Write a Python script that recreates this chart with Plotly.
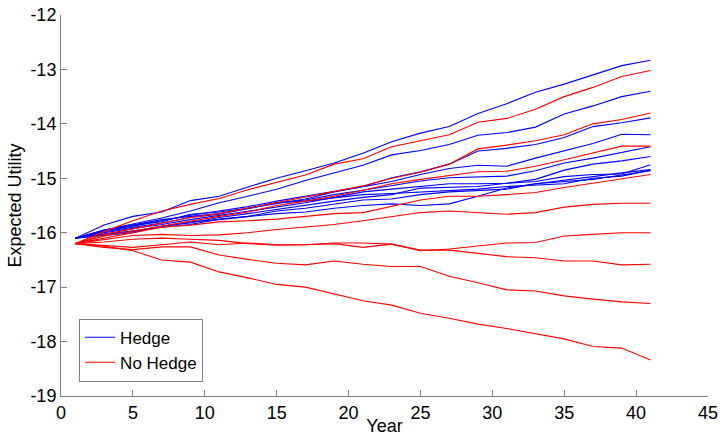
import plotly.graph_objects as go

years = [1, 3, 5, 7, 9, 11, 13, 15, 17, 19, 21, 23, 25, 27, 29, 31, 33, 35, 37, 39, 41]

hedge_1 = [-16.10, -15.86, -15.70, -15.62, -15.41, -15.33, -15.16, -15.00, -14.86, -14.72, -14.54, -14.33, -14.17, -14.05, -13.81, -13.63, -13.42, -13.27, -13.10, -12.93, -12.83]
hedge_2 = [-16.10, -15.95, -15.84, -15.73, -15.60, -15.45, -15.33, -15.20, -15.04, -14.90, -14.76, -14.57, -14.49, -14.38, -14.21, -14.16, -14.06, -13.82, -13.67, -13.50, -13.40]
hedge_3 = [-16.10, -15.97, -15.88, -15.78, -15.68, -15.60, -15.52, -15.42, -15.33, -15.24, -15.15, -14.99, -14.88, -14.74, -14.50, -14.45, -14.38, -14.25, -14.05, -13.98, -13.89]
hedge_4 = [-16.10, -15.95, -15.86, -15.80, -15.66, -15.62, -15.55, -15.46, -15.38, -15.25, -15.15, -15.06, -14.93, -14.82, -14.76, -14.78, -14.63, -14.50, -14.36, -14.19, -14.20]
hedge_5 = [-16.10, -15.98, -15.90, -15.82, -15.72, -15.66, -15.55, -15.45, -15.40, -15.30, -15.22, -15.14, -15.05, -14.99, -14.97, -14.96, -14.86, -14.72, -14.63, -14.53, -14.42]
hedge_6 = [-16.10, -16.00, -15.92, -15.85, -15.76, -15.68, -15.60, -15.52, -15.45, -15.35, -15.25, -15.20, -15.15, -15.10, -15.10, -15.09, -15.02, -14.85, -14.74, -14.68, -14.60]
hedge_7 = [-16.10, -16.02, -15.98, -15.88, -15.82, -15.72, -15.65, -15.57, -15.50, -15.42, -15.35, -15.30, -15.18, -15.17, -15.15, -15.09, -15.06, -14.97, -14.93, -14.92, -14.75]
hedge_8 = [-16.10, -15.96, -15.86, -15.76, -15.70, -15.65, -15.56, -15.45, -15.42, -15.36, -15.30, -15.28, -15.25, -15.22, -15.20, -15.15, -15.12, -15.10, -15.00, -14.96, -14.85]
hedge_9 = [-16.10, -16.03, -15.96, -15.90, -15.85, -15.75, -15.70, -15.60, -15.55, -15.48, -15.40, -15.38, -15.30, -15.25, -15.22, -15.20, -15.10, -15.06, -15.02, -14.94, -14.86]
hedge_10 = [-16.10, -16.05, -16.00, -15.88, -15.80, -15.76, -15.70, -15.65, -15.62, -15.55, -15.50, -15.47, -15.50, -15.47, -15.33, -15.18, -15.10, -15.04, -14.97, -14.90, -14.84]

nohedge_1 = [-16.20, -15.98, -15.78, -15.60, -15.48, -15.37, -15.21, -15.08, -14.94, -14.74, -14.64, -14.42, -14.31, -14.20, -13.97, -13.90, -13.73, -13.50, -13.33, -13.13, -13.02]
nohedge_2 = [-16.20, -16.03, -15.93, -15.82, -15.72, -15.65, -15.55, -15.45, -15.35, -15.25, -15.14, -15.00, -14.89, -14.74, -14.46, -14.39, -14.31, -14.20, -14.00, -13.92, -13.80]
nohedge_3 = [-16.20, -16.06, -15.97, -15.88, -15.78, -15.70, -15.62, -15.50, -15.42, -15.33, -15.22, -15.10, -15.02, -14.95, -14.88, -14.87, -14.78, -14.66, -14.54, -14.41, -14.41]
nohedge_4 = [-16.20, -16.10, -16.00, -15.90, -15.86, -15.80, -15.78, -15.75, -15.70, -15.65, -15.63, -15.52, -15.40, -15.33, -15.33, -15.30, -15.26, -15.17, -15.09, -15.00, -14.93]
nohedge_5 = [-16.20, -16.12, -16.05, -16.03, -16.05, -16.04, -16.00, -15.94, -15.89, -15.85, -15.78, -15.71, -15.63, -15.60, -15.63, -15.66, -15.63, -15.53, -15.48, -15.46, -15.46]
nohedge_6 = [-16.20, -16.24, -16.27, -16.22, -16.17, -16.22, -16.19, -16.22, -16.22, -16.19, -16.19, -16.21, -16.33, -16.30, -16.24, -16.19, -16.18, -16.06, -16.03, -16.00, -16.00]
nohedge_7 = [-16.20, -16.17, -16.12, -16.10, -16.12, -16.14, -16.20, -16.23, -16.22, -16.20, -16.27, -16.21, -16.32, -16.32, -16.38, -16.44, -16.46, -16.52, -16.52, -16.59, -16.58]
nohedge_8 = [-16.20, -16.27, -16.31, -16.26, -16.26, -16.41, -16.49, -16.56, -16.59, -16.52, -16.58, -16.62, -16.62, -16.80, -16.92, -17.05, -17.07, -17.16, -17.22, -17.27, -17.30]
nohedge_9 = [-16.20, -16.25, -16.33, -16.50, -16.54, -16.72, -16.83, -16.95, -17.00, -17.13, -17.25, -17.33, -17.48, -17.57, -17.68, -17.76, -17.85, -17.95, -18.09, -18.12, -18.34]

hedge_series = [hedge_1, hedge_2, hedge_3, hedge_4, hedge_5, hedge_6, hedge_7, hedge_8, hedge_9, hedge_10]
nohedge_series = [nohedge_1, nohedge_2, nohedge_3, nohedge_4, nohedge_5, nohedge_6, nohedge_7, nohedge_8, nohedge_9]

x_tick_vals = [0, 5, 10, 15, 20, 25, 30, 35, 40, 45]
x_tick_text = ["0", "5", "10", "15", "20", "25", "30", "35", "40", "45"]
y_tick_vals = [-19, -18, -17, -16, -15, -14, -13, -12]
y_tick_text = ["-19", "-18", "-17", "-16", "-15", "-14", "-13", "-12"]

FONT = "Liberation Sans, Arial, sans-serif"

fig = go.Figure()
for i, s in enumerate(hedge_series):
    fig.add_trace(go.Scatter(x=years, y=s, mode="lines", name="Hedge",
                             legendgroup="hedge", showlegend=(i == 0),
                             line=dict(color="#0000ff", width=1.1)))
for i, s in enumerate(nohedge_series):
    fig.add_trace(go.Scatter(x=years, y=s, mode="lines", name="No Hedge",
                             legendgroup="nohedge", showlegend=(i == 0),
                             line=dict(color="#ff0000", width=1.1)))

fig.update_layout(
    width=720, height=436,
    margin=dict(l=61, r=12, t=15, b=40),
    paper_bgcolor="white", plot_bgcolor="white",
    font=dict(family=FONT, size=18, color="black"),
    showlegend=True,
    legend=dict(x=0.028, y=0.203, xanchor="left", yanchor="top",
                bgcolor="white", bordercolor="#808080", borderwidth=1,
                font=dict(family=FONT, size=17, color="black"),
                itemwidth=30, tracegroupgap=0),
    xaxis=dict(range=[0, 45], tickmode="array", tickvals=x_tick_vals, ticktext=x_tick_text,
               showgrid=False, zeroline=False, showline=True, linecolor="#808080", linewidth=1,
               ticks="inside", ticklen=6, tickcolor="#808080", automargin=False,
               ticklabeloverflow="allow", tickfont=dict(size=18),
               title=dict(text="Year", standoff=0, font=dict(size=18))),
    yaxis=dict(range=[-19, -12], tickmode="array", tickvals=y_tick_vals, ticktext=y_tick_text,
               showgrid=False, zeroline=False, showline=True, linecolor="#808080", linewidth=1,
               ticks="inside", ticklen=6, tickcolor="#808080", automargin=False,
               ticklabeloverflow="allow", tickfont=dict(size=18),
               title=dict(text="Expected Utility", standoff=4, font=dict(size=18))),
)

# Remove the browser's default 8px body margin so the 720x436 figure fills the window.
fig.write_html("out.html", config={"displayModeBar": False},
               post_script="document.body.style.margin='0px';")
